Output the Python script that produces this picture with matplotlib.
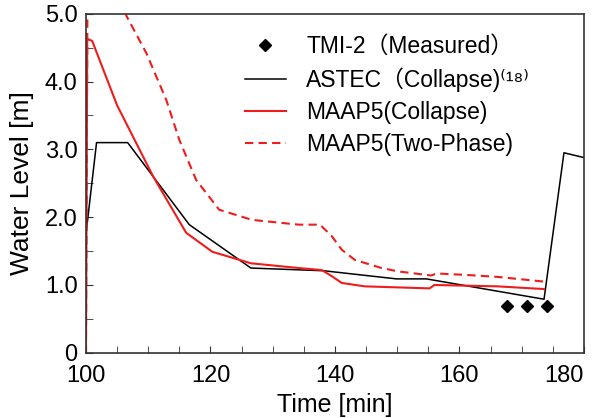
import matplotlib
matplotlib.use('Agg')
import matplotlib.pyplot as plt
from matplotlib.ticker import MultipleLocator, FuncFormatter

plt.rcParams['font.family'] = ['Liberation Sans', 'Noto Sans CJK JP', 'DejaVu Sans']

# TMI-2 measured collapsed level
tmi_t = [167.6, 170.8, 174.1]
tmi_lv = [0.69, 0.69, 0.69]

# ASTEC collapsed level
astec_t = [100.0, 101.7, 106.7, 116.6, 126.5, 138.2, 149.9, 154.7, 173.6, 176.8, 180.0]
astec_lv = [1.75, 3.10, 3.10, 1.89, 1.25, 1.21, 1.09, 1.09, 0.79, 2.95, 2.88]

# MAAP5 collapsed level
maap_c_t = [100.0, 100.2, 101.0, 105.0, 110.8, 116.1, 120.3, 126.5, 134.2, 137.9,
            139.5, 141.1, 144.8, 155.2, 156.0, 166.1, 173.6]
maap_c_lv = [0.0, 4.63, 4.60, 3.65, 2.60, 1.77, 1.49, 1.32, 1.25, 1.22,
             1.13, 1.03, 0.98, 0.95, 1.00, 0.98, 0.94]

# MAAP5 two-phase level
maap_2p_t = [100.0, 100.3, 103.0, 106.5, 109.7, 112.9, 115.0, 117.7, 121.4, 126.7,
             134.2, 137.6, 139.5, 141.1, 143.2, 147.5, 150.2, 155.5, 156.3, 160.8,
             166.1, 173.6]
maap_2p_lv = [0.0, 6.5, 6.0, 4.97, 4.42, 3.73, 3.14, 2.55, 2.11, 1.96,
              1.89, 1.89, 1.72, 1.52, 1.37, 1.25, 1.20, 1.14, 1.17, 1.15,
              1.12, 1.05]

x_ticks = [100, 120, 140, 160, 180]

fig = plt.figure(figsize=(5.97, 4.18), dpi=100)
ax = fig.add_axes([0.144, 0.156, 0.834, 0.811])

red = '#ee1c1c'
ax.plot(tmi_t, tmi_lv, linestyle='none', marker='D', markersize=6,
        color='black', label='TMI-2（Measured）')
ax.plot(astec_t, astec_lv, color='black', lw=1.1, label='ASTEC（Collapse)⁽¹⁸⁾')
ax.plot(maap_c_t, maap_c_lv, color=red, lw=1.5, label='MAAP5(Collapse)')
ax.plot(maap_2p_t, maap_2p_lv, color=red, lw=1.5, linestyle=(0, (4, 2.5)),
        label='MAAP5(Two-Phase)')

ax.set_xlim(100, 180)
ax.set_ylim(0, 5.0)
ax.set_xticks(x_ticks)
ax.xaxis.set_minor_locator(MultipleLocator(5))
ax.yaxis.set_major_locator(MultipleLocator(1))
ax.yaxis.set_minor_locator(MultipleLocator(0.5))
ax.yaxis.set_major_formatter(FuncFormatter(lambda v, p: '0' if v == 0 else '%.1f' % v))
ax.tick_params(which='both', direction='in', top=False, right=False, labelsize=17,
               color='#333333')
ax.tick_params(which='major', length=5)
ax.tick_params(which='minor', length=5)
ax.tick_params(axis='x', pad=9)
ax.tick_params(axis='y', pad=6)
for s in ax.spines.values():
    s.set_color('#333333')
    s.set_linewidth(1.2)

# keep the last x label inside the figure
ax.get_xticklabels()[-1].set_horizontalalignment('right')

ax.set_xlabel('Time [min]', fontsize=18, labelpad=4)
ax.set_ylabel('Water Level [m]', fontsize=19)
ax.yaxis.set_label_coords(-0.104, 0.5)

ax.legend(loc='upper left', bbox_to_anchor=(0.30, 0.965), frameon=False, fontsize=16.5,
          handlelength=1.8, handletextpad=0.9, labelspacing=0.4, borderaxespad=0)

fig.savefig('out.png', dpi=100)
